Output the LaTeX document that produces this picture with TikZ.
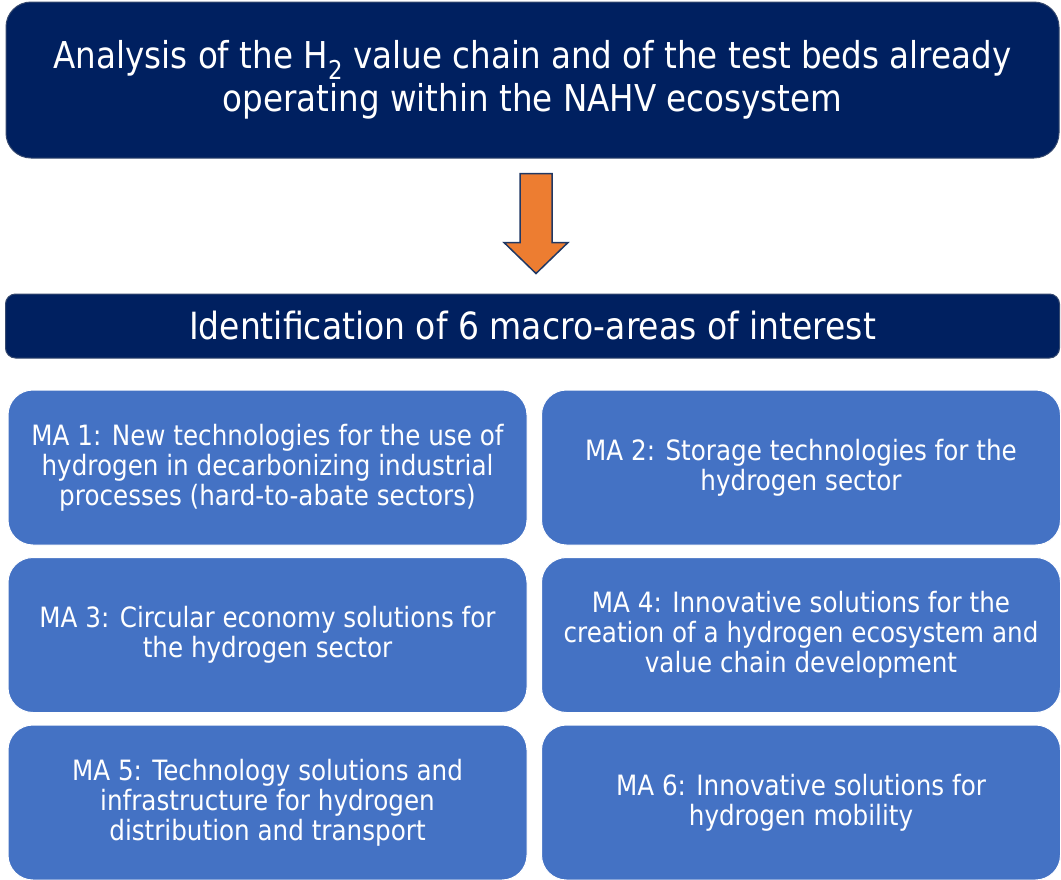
\documentclass[tikz,border=0pt]{standalone}
\usepackage{fontspec}
\setmainfont{DejaVu Sans}[FakeStretch=0.88]
\usetikzlibrary{positioning,calc}

\definecolor{navy}{HTML}{002060}
\definecolor{hdrline}{HTML}{35486E}
\definecolor{areablue}{HTML}{4472C4}
\definecolor{arrorange}{HTML}{ED7D31}
\definecolor{arrline}{HTML}{203864}

\begin{document}
\begin{tikzpicture}[
  x=1pt, y=1pt,
  header/.style={rectangle, draw=hdrline, line width=1pt, fill=navy, text=white, align=center, inner sep=0pt},
  area/.style={rectangle, rounded corners=25pt, draw=white, line width=1pt, fill=areablue, text=white, align=center,
    minimum width=519pt, minimum height=155pt, inner sep=0pt, font=\fontsize{28}{30}\selectfont},
  bigarrow/.style={draw=arrline, line width=1.5pt, fill=arrorange, line join=miter}
]
\useasboundingbox (0,0) rectangle (1061,-879);

% Kopfzeilen
\node[header, rounded corners=25pt, minimum width=1053pt, minimum height=156pt, font=\fontsize{37}{43}\selectfont]
  (analysis) at (532.5,-80) {Analysis of the H\textsubscript{2} value chain and of the test beds already\\operating within the NAHV ecosystem};
\node[header, rounded corners=10pt, minimum width=1054pt, minimum height=64pt, font=\fontsize{37.5}{42}\selectfont,
  below=135pt of analysis] (ident) {Identification of 6 macro-areas of interest};

% Pfeil
\coordinate (arrtop) at ($(analysis.south)+(3.5,-15)$);
\draw[bigarrow] ($(arrtop)+(-16,0)$) -- ++(32,0) -- ++(0,-69) -- ++(16,0) -- ++(-32,-31) -- ++(-32,31) -- ++(16,0) -- cycle;

% Makro-Bereiche
\node[area, below right=31pt and 2.5pt of ident.south west] (ma1) {MA 1: New technologies for the use of\\hydrogen in decarbonizing industrial\\processes (hard-to-abate sectors)};
\node[area, right=13.5pt of ma1] (ma2) {MA 2: Storage technologies for the\\hydrogen sector};
\node[area, below=11.5pt of ma1] (ma3) {MA 3: Circular economy solutions for\\the hydrogen sector};
\node[area, right=13.5pt of ma3] (ma4) {MA 4: Innovative solutions for the\\creation of a hydrogen ecosystem and\\value chain development};
\node[area, below=11.5pt of ma3] (ma5) {MA 5: Technology solutions and\\infrastructure for hydrogen\\distribution and transport};
\node[area, right=13.5pt of ma5] (ma6) {MA 6: Innovative solutions for\\hydrogen mobility};

\end{tikzpicture}
\end{document}
